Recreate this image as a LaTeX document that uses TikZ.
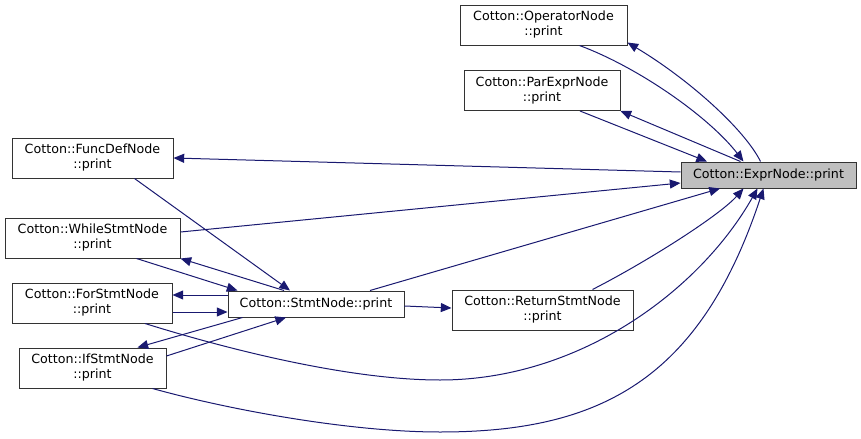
\documentclass[tikz,border=0pt]{standalone}
\usepackage{fontspec}
\setmainfont{DejaVu Sans}
\usepackage{tikz}
\usetikzlibrary{arrows.meta, calc}
\definecolor{midnightblue}{HTML}{191970}

\begin{document}
\begin{tikzpicture}[
    x=0.75pt, y=-0.75pt,
    fn/.style={
        draw=black!80,
        line width=0.75pt,
        fill=white,
        align=center,
        inner sep=0pt,
        minimum height=30pt,
        font=\fontsize{9.5}{11.25}\selectfont
    },
    cur/.style={
        fn,
        fill=black!25,
        minimum height=19.5pt
    },
    call/.style={
        draw=midnightblue,
        line width=0.75pt,
        -{Triangle[length=8pt,width=6.75pt]}
    }
]
\useasboundingbox (0,0) rectangle (861,439);

% Functions
\node[cur, minimum width=131.25pt] (expr)  at (768.5,175) {Cotton::ExprNode::print};
\node[fn,  minimum width=125.25pt] (op)    at (543.5,25)  {Cotton::OperatorNode\\::print};
\node[fn,  minimum width=117pt]    (par)   at (542,90.5)  {Cotton::ParExprNode\\::print};
\node[fn,  minimum width=120.75pt] (func)  at (92.5,158)  {Cotton::FuncDefNode\\::print};
\node[fn,  minimum width=131.25pt] (while) at (92.5,238)  {Cotton::WhileStmtNode\\::print};
\node[fn,  minimum width=120pt]    (for)   at (92,303)    {Cotton::ForStmtNode\\::print};
\node[fn,  minimum width=110.25pt] (if)    at (92.5,368)  {Cotton::IfStmtNode\\::print};
\node[cur, fill=white, minimum width=132pt] (stmt) at (316,304) {Cotton::StmtNode::print};
\node[fn,  minimum width=135.75pt] (ret)   at (542.5,310) {Cotton::ReturnStmtNode\\::print};

% Calls into ExprNode::print
\draw[call] ($(par.south)+(38,0)$) -- ($(expr.north)+(-61.5,0)$);
\draw[call] ($(op.south)+(36,0)$)
    .. controls (640,68) and (710,118) .. ($(expr.north)+(-25,0)$);
\draw[call] ($(while.east)+(0,-6)$) -- ($(expr.west)+(0,8)$);
\draw[call] ($(stmt.north)+(54,0)$) -- ($(expr.south)+(-48.5,0)$);
\draw[call] ($(ret.north)+(50,0)$)
    .. controls (650,260) and (720,215) .. ($(expr.south)+(-25,0)$);
\draw[call] ($(for.south)+(53,0)$)
    .. controls (230,350) and (350,380) .. (440,380)
    .. controls (580,380) and (700,290) .. ($(expr.south)+(-11,0)$);
\draw[call] ($(if.south)+(60,0)$)
    .. controls (230,410) and (350,432) .. (440,432)
    .. controls (600,432) and (700,380) .. ($(expr.south)+(-5,0)$);

% Calls out of ExprNode::print
\draw[call] ($(expr.north)+(-28,0)$) -- (par.south east);
\draw[call] ($(expr.north)+(-8,0)$)
    .. controls (745,130) and (690,80) .. ($(op.south east)+(0,-3)$);
\draw[call] ($(expr.west)+(0,-3)$) -- (func.east);

% StmtNode::print
\draw[call] ($(func.south)+(42,0)$) -- ($(stmt.north)+(-26,0)$);
\draw[call] ($(while.south)+(44,0)$) -- ($(stmt.north west)+(10,0)$);
\draw[call] ($(stmt.north)+(-32,0)$) -- (while.south east);
\draw[call] ($(stmt.west)+(0,-9)$) -- ($(for.east)+(0,-8)$);
\draw[call] ($(for.east)+(0,9)$) -- ($(stmt.west)+(0,8)$);
\draw[call] ($(stmt.south west)+(15,0)$) -- ($(if.north)+(45,0)$);
\draw[call] ($(if.east)+(0,-12)$) -- ($(stmt.south)+(-30,0)$);
\draw[call] ($(stmt.east)+(0,2)$) -- ($(ret.west)+(0,-2)$);
\end{tikzpicture}
\end{document}
